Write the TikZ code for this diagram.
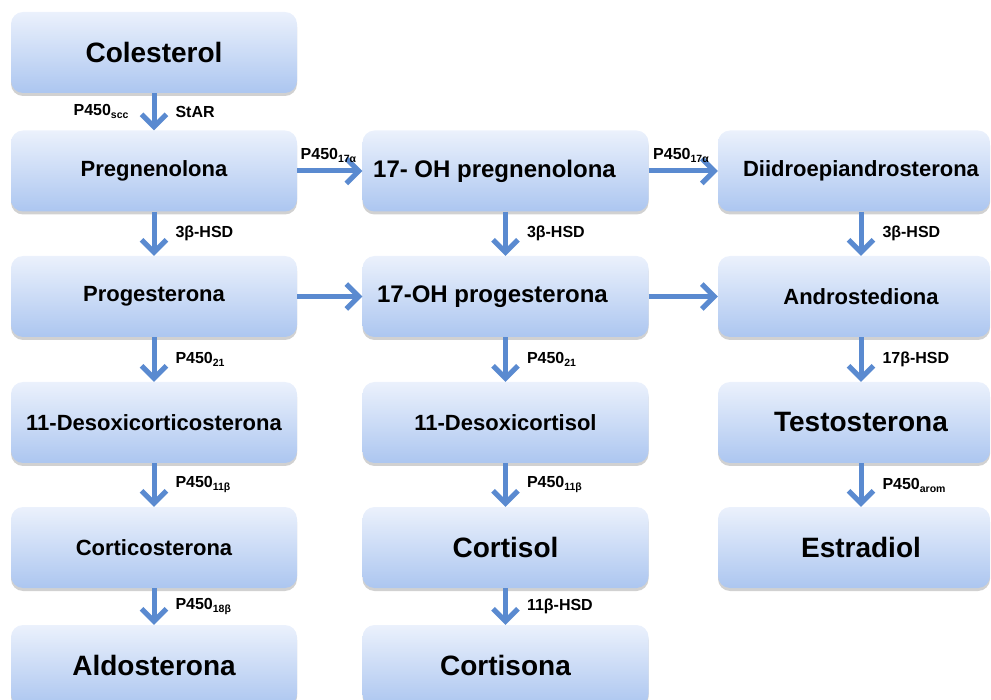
\documentclass[tikz,border=0pt]{standalone}
\usepackage{fontspec}
\setmainfont{Liberation Sans}
\usetikzlibrary{arrows.meta,shadows}
\definecolor{arrowblue}{HTML}{5A8AD0}
\definecolor{boxtop}{HTML}{EBF1FC}
\definecolor{boxbot}{HTML}{ACC6F0}
\newcommand{\enz}[1]{\raisebox{-3pt}{\fontsize{10.5}{11}\selectfont\bfseries #1}}

\begin{document}
\begin{tikzpicture}[x=1pt,y=-1pt,
  box/.style={rounded corners=12pt, top color=boxtop, bottom color=boxbot,
    minimum width=286pt, minimum height=81pt, inner sep=0pt, text=black,
    drop shadow={shadow xshift=0pt, shadow yshift=-3pt, opacity=0.3, fill=black!60}},
  narrow/.style={minimum width=272pt},
  big/.style={font=\fontsize{28}{30}\selectfont\bfseries},
  mid/.style={font=\fontsize{22}{24}\selectfont\bfseries},
  midplus/.style={font=\fontsize{24}{26}\selectfont\bfseries},
  flow/.style={draw=arrowblue, line width=5pt,
    -{Straight Barb[length=12.5pt,width=25pt]}},
  lab/.style={font=\fontsize{16}{18}\selectfont\bfseries, text=black, inner sep=0pt},
]
\useasboundingbox (0,0) rectangle (991,700);
\clip (0,0) rectangle (991,700);

% column 1
\node[box, big] (col) at (154,52.5) {Colesterol};
\node[box, mid] (preg) at (154,171) {Pregnenolona};
\node[box, mid] (prog) at (154,296.5) {Progesterona};
\node[box, mid] (doc) at (154,422.5) {11-Desoxicorticosterona};
\node[box, mid] (cort) at (154,547.5) {Corticosterona};
\node[box, big] (aldo) at (154,665.5) {Aldosterona};

% column 2 (the 17-OH names sit a little left of centre)
\node[box, midplus] (ohpreg) at (505.5,171) {17- OH pregnenolona\hspace*{22pt}};
\node[box, midplus] (ohprog) at (505.5,296.5) {17-OH progesterona\hspace*{26pt}};
\node[box, mid] (dcol) at (505.5,422.5) {11-Desoxicortisol};
\node[box, big] (cortisol) at (505.5,547.5) {Cortisol};
\node[box, big] (cortisona) at (505.5,665.5) {Cortisona};

% column 3 (text sits slightly right of the box centre)
\node[box, narrow, mid] (dhea) at (854,171) {\hspace*{14pt}Diidroepiandrosterona};
\node[box, narrow, mid] (andro) at (854,296.5) {\hspace*{14pt}Androstediona};
\node[box, narrow, big] (testo) at (854,422.5) {\hspace*{14pt}Testosterona};
\node[box, narrow, big] (estra) at (854,547.5) {\hspace*{14pt}Estradiol};

% vertical steps, column 1
\draw[flow] (col.south) -- node[lab, right=19pt] {StAR}
  node[lab, left=23pt] {P450\enz{scc}} (preg.north);
\draw[flow] (preg.south) -- node[lab, right=19pt] {3β-HSD} (prog.north);
\draw[flow] (prog.south) -- node[lab, right=19pt] {P450\enz{21}} (doc.north);
\draw[flow] (doc.south) -- node[lab, right=19pt] {P450\enz{11β}} (cort.north);
\draw[flow] (cort.south) -- node[lab, right=19pt] {P450\enz{18β}} (aldo.north);

% vertical steps, column 2
\draw[flow] (ohpreg.south) -- node[lab, right=19pt] {3β-HSD} (ohprog.north);
\draw[flow] (ohprog.south) -- node[lab, right=19pt] {P450\enz{21}} (dcol.north);
\draw[flow] (dcol.south) -- node[lab, right=19pt] {P450\enz{11β}} (cortisol.north);
\draw[flow] (cortisol.south) -- node[lab, right=19pt] {11β-HSD} (cortisona.north);

% vertical steps, column 3
\draw[flow] ([xshift=7pt]dhea.south) -- node[lab, right=19pt] {3β-HSD} ([xshift=7pt]andro.north);
\draw[flow] ([xshift=7pt]andro.south) -- node[lab, right=19pt] {17β-HSD} ([xshift=7pt]testo.north);
\draw[flow] ([xshift=7pt]testo.south) -- node[lab, right=19pt] {P450\enz{arom}} ([xshift=7pt]estra.north);

% horizontal steps
\draw[flow] (preg.east) -- node[lab, pos=0, anchor=south west, xshift=1pt, yshift=6pt] {P450\enz{17α}} (ohpreg.west);
\draw[flow] (ohpreg.east) -- node[lab, pos=0, anchor=south west, xshift=2pt, yshift=6pt] {P450\enz{17α}} (dhea.west);
\draw[flow] (prog.east) -- (ohprog.west);
\draw[flow] (ohprog.east) -- (andro.west);
\end{tikzpicture}
\end{document}
